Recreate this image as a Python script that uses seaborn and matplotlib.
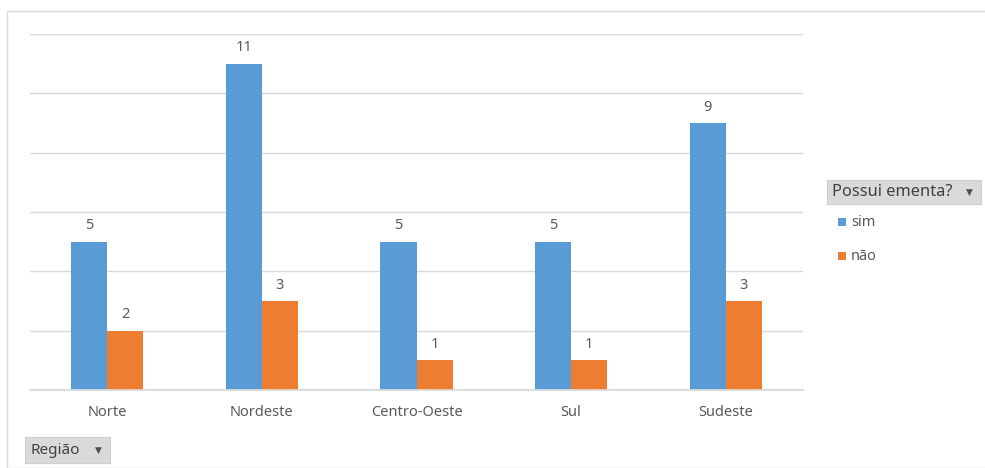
import seaborn as sns
import pandas as pd
import matplotlib.pyplot as plt
from matplotlib.patches import Rectangle

regioes = ['Norte', 'Nordeste', 'Centro-Oeste', 'Sul', 'Sudeste']
sim = [5, 11, 5, 5, 9]
nao = [2, 3, 1, 1, 3]
respostas = ['sim', 'não']
cores = ['#5B9BD5', '#ED7D31']

df = pd.DataFrame({'Região': regioes * 2,
                   'Quantidade': sim + nao,
                   'Possui ementa?': ['sim'] * len(regioes) + ['não'] * len(regioes)})

sns.set_theme(style='white')
plt.rcParams['font.family'] = ['Noto Sans', 'DejaVu Sans']
texto = '#595959'

fig = plt.figure(figsize=(9.85, 4.68), dpi=100)
ax = fig.add_axes([30 / 985, 78 / 468, 773 / 985, 356 / 468])

# Moldura externa do gráfico
fig.patches.append(Rectangle((7 / 985, 0), 1.0, (468 - 11) / 468, transform=fig.transFigure,
                             fill=False, edgecolor='#D9D9D9', linewidth=1.0))

sns.barplot(data=df, x='Região', y='Quantidade', hue='Possui ementa?', hue_order=respostas,
            palette=cores, width=0.466, gap=0, saturation=1, linewidth=0, ax=ax, legend=False)

for container in ax.containers:
    ax.bar_label(container, padding=6, fontsize=10.5, color=texto)

ax.set_ylim(0, 12)
ax.set_yticks(range(0, 13, 2))
ax.set_yticklabels([])
ax.tick_params(axis='y', length=0)
ax.tick_params(axis='x', length=0, labelsize=10.5, labelcolor=texto, pad=11)
ax.set_xlim(-0.5, len(regioes) - 0.5)
ax.grid(axis='y', color='#D9D9D9', linewidth=1)
ax.set_axisbelow(True)
for lado in ['top', 'right', 'left']:
    ax.spines[lado].set_visible(False)
ax.spines['bottom'].set_color('#D9D9D9')
ax.set_xlabel('')
ax.set_ylabel('')


def botao(x0, y0, x1, y1, rotulo, tam):
    # retângulo cinza com rótulo e seta, em pixels a partir do topo
    fig.patches.append(Rectangle((x0 / 985, 1 - y1 / 468), (x1 - x0) / 985, (y1 - y0) / 468,
                                 transform=fig.transFigure, facecolor='#DADADA',
                                 edgecolor='#CFCFCF', linewidth=0.8))
    yc = 1 - (y0 + y1) / 2 / 468
    fig.text((x0 + 5) / 985, yc, rotulo, fontsize=tam, color='#404040', va='center', ha='left')
    fig.text((x1 - 8) / 985, yc, '▼', fontsize=6.5, color='#505050', va='center', ha='right')


botao(827, 180, 981, 204, 'Possui ementa?', 11.8)
botao(25, 437, 110, 463, 'Região', 11)

# Legenda
for i, (resp, cor) in enumerate(zip(respostas, cores)):
    y = 1 - (222 + 34 * i) / 468
    fig.patches.append(Rectangle((838 / 985, y - 4 / 468), 8 / 985, 8 / 468,
                                 transform=fig.transFigure, facecolor=cor, edgecolor='none'))
    fig.text(851 / 985, y, resp, fontsize=10.5, color=texto, va='center', ha='left')

fig.savefig('out.png', dpi=100)
